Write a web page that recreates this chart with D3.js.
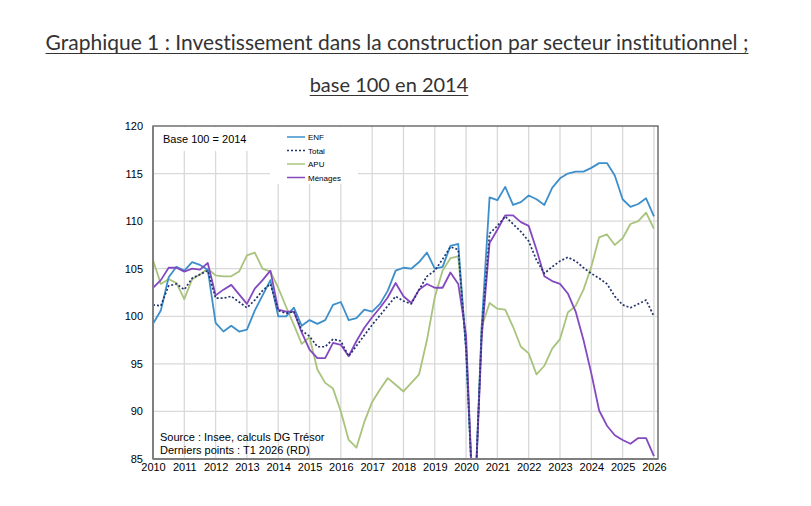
<!DOCTYPE html>
<html>
<head>
<meta charset="utf-8">
<script src="https://cdn.jsdelivr.net/npm/d3@7"></script>
<style>
  body { margin: 0; background: #fff; }
  svg { display: block; }
</style>
</head>
<body>
<div id="chart"></div>
<script>
// quarterly series, 2010 T1 -> 2026 T1, base 100 = 2014
const startYear = 2010;
const yearTicks = d3.range(2010, 2027);
const yTicks = [85, 90, 95, 100, 105, 110, 115, 120];

const enf = [
  99.2, 100.6, 104.1, 105.2,
  104.8, 105.7, 105.4, 104.9,
  99.3, 98.4, 99.0, 98.4,
  98.6, 100.6, 102.2, 103.8,
  100.0, 100.0, 100.9, 99.0,
  99.6, 99.2, 99.6, 101.2,
  101.5, 99.6, 99.8, 100.7,
  100.5, 101.3, 102.7, 104.8,
  105.1, 105.0, 105.7, 106.7,
  105.0, 105.2, 107.4, 107.6,
  96.5, 78.0, 99.0, 112.5,
  112.2, 113.6, 111.7, 112.0,
  112.7, 112.3, 111.7, 113.5,
  114.5, 115.0, 115.2, 115.2,
  115.6, 116.1, 116.1, 114.8,
  112.3, 111.5, 111.8, 112.4,
  110.5
];

const total = [
  101.2, 101.1, 103.2, 103.4,
  102.8, 104.0, 104.4, 104.8,
  101.9, 101.9, 102.1, 101.5,
  100.9, 101.7, 102.7, 103.4,
  100.6, 100.3, 100.5, 98.5,
  97.9, 96.8, 96.8, 97.6,
  97.4, 95.8, 96.9, 98.0,
  99.1, 100.1, 101.1, 102.1,
  101.6, 101.3, 102.8, 104.2,
  104.8, 106.0, 107.3, 107.0,
  96.5, 78.0, 98.5, 108.7,
  109.5, 110.5, 109.7, 108.9,
  107.9, 105.9, 104.5, 105.2,
  105.8, 106.2, 105.8, 105.1,
  104.5, 104.0, 103.4, 102.1,
  101.2, 100.9, 101.3, 101.7,
  100.0
];

const apu = [
  105.9, 103.4, 103.9, 103.5,
  101.8, 103.9, 104.4, 105.0,
  104.3, 104.2, 104.2, 104.7,
  106.4, 106.7, 105.0, 104.7,
  103.0, 101.0, 99.1, 97.1,
  97.8, 94.4, 93.0, 92.4,
  90.0, 87.0, 86.2, 88.9,
  91.0, 92.3, 93.5, 92.8,
  92.1, 93.0, 93.9, 97.5,
  102.0, 104.8, 106.1, 106.3,
  97.0, 78.0, 98.9, 101.4,
  100.8, 100.7, 98.9, 96.8,
  96.1, 93.9, 94.8, 96.6,
  97.6, 100.4, 101.1, 102.8,
  105.2, 108.3, 108.6, 107.5,
  108.2, 109.7, 110.0, 110.9,
  109.2
];

const menages = [
  103.0, 103.8, 105.1, 105.1,
  104.7, 105.0, 104.9, 105.6,
  102.2, 102.8, 103.3, 102.3,
  101.3, 102.9, 103.8, 104.8,
  100.7, 100.5, 100.5, 98.3,
  96.5, 95.6, 95.6, 97.2,
  97.0, 95.8, 97.4, 98.8,
  99.9, 100.9, 102.0, 103.5,
  102.1, 101.4, 102.8, 103.4,
  103.0, 103.0, 104.6, 103.4,
  98.0, 78.0, 97.8, 107.7,
  109.1, 110.6, 110.6, 109.9,
  109.5, 107.0, 104.2, 103.7,
  103.4, 102.4, 100.5, 97.5,
  94.0, 90.1, 88.5, 87.5,
  87.0, 86.6, 87.2, 87.2,
  85.3
];

const series = [
  {name: 'APU', values: apu, color: '#a8c47c', dash: null},
  {name: 'ENF', values: enf, color: '#3d8fcc', dash: null},
  {name: 'Ménages', values: menages, color: '#8449c0', dash: null},
  {name: 'Total', values: total, color: '#23336b', dash: '2,2'}
];
const legendOrder = ['ENF', 'Total', 'APU', 'Ménages'];

const width = 811, height = 506;
const plot = {left: 153, right: 658, top: 126, bottom: 459};

const svg = d3.select('#chart').append('svg')
  .attr('width', width).attr('height', height)
  .style('font-family', 'Liberation Sans, Arial, sans-serif');

const x = d3.scaleLinear().domain([2010, 2026.13]).range([plot.left, plot.right]);
const y = d3.scaleLinear().domain([85, 120]).range([plot.bottom, plot.top]);

// title (two underlined lines)
const titleLines = [
  {text: 'Graphique 1 : Investissement dans la construction par secteur institutionnel ;', x: 397, y: 50, size: 21},
  {text: 'base 100 en 2014', x: 389, y: 92, size: 20}
];
titleLines.forEach(t => {
  const el = svg.append('text')
    .attr('x', t.x).attr('y', t.y)
    .attr('text-anchor', 'middle')
    .style('font-family', 'Lato, "Open Sans", sans-serif')
    .style('font-size', t.size + 'px')
    .style('font-variant-ligatures', 'none')
    .attr('fill', '#333')
    .text(t.text);
  const w = el.node().getComputedTextLength();
  svg.append('line')
    .attr('x1', t.x - w / 2).attr('x2', t.x + w / 2)
    .attr('y1', t.y + 3.5).attr('y2', t.y + 3.5)
    .attr('stroke', '#333').attr('stroke-width', 1.2);
});

// gridlines
const grid = svg.append('g').attr('stroke', '#d9d9d9').attr('stroke-width', 1.3);
grid.selectAll('.hg').data(yTicks.filter(v => v > 85 && v < 120)).join('line')
  .attr('x1', plot.left).attr('x2', plot.right)
  .attr('y1', d => y(d)).attr('y2', d => y(d));
grid.selectAll('.vg').data(yearTicks.filter(v => v > 2010)).join('line')
  .attr('x1', d => x(d)).attr('x2', d => x(d))
  .attr('y1', plot.top).attr('y2', plot.bottom);

// white boxes behind the notes
svg.append('rect').attr('x', plot.left + 1).attr('y', plot.top + 1)
  .attr('width', 116).attr('height', 24).attr('fill', '#fff');
svg.append('rect').attr('x', 270).attr('y', plot.top + 1)
  .attr('width', 88).attr('height', 57).attr('fill', '#fff');

// lines
svg.append('clipPath').attr('id', 'clip').append('rect')
  .attr('x', plot.left).attr('y', plot.top)
  .attr('width', plot.right - plot.left).attr('height', plot.bottom - plot.top);

const line = d3.line()
  .x((d, i) => x(startYear + i / 4))
  .y(d => y(d));

svg.append('g').attr('clip-path', 'url(#clip)')
  .selectAll('path').data(series).join('path')
  .attr('d', d => line(d.values))
  .attr('fill', 'none')
  .attr('stroke', d => d.color)
  .attr('stroke-width', d => d.dash ? 1.7 : 1.8)
  .attr('stroke-dasharray', d => d.dash)
  .attr('stroke-linejoin', 'round');

// frame
svg.append('rect')
  .attr('x', plot.left).attr('y', plot.top)
  .attr('width', plot.right - plot.left).attr('height', plot.bottom - plot.top)
  .attr('fill', 'none').attr('stroke', '#595959').attr('stroke-width', 1.3);
svg.append('line').attr('x1', plot.left).attr('x2', plot.left)
  .attr('y1', plot.top).attr('y2', plot.bottom)
  .attr('stroke', '#7f7f7f').attr('stroke-width', 2);
svg.append('line').attr('x1', plot.left).attr('x2', plot.right)
  .attr('y1', plot.bottom).attr('y2', plot.bottom)
  .attr('stroke', '#7f7f7f').attr('stroke-width', 2);

// axes
const yAxis = svg.append('g')
  .attr('transform', `translate(${plot.left},0)`)
  .call(d3.axisLeft(y).tickValues(yTicks).tickSize(0).tickPadding(10));
const xAxis = svg.append('g')
  .attr('transform', `translate(0,${plot.bottom})`)
  .call(d3.axisBottom(x).tickValues(yearTicks).tickFormat(d3.format('d')).tickSize(0).tickPadding(4));
[yAxis, xAxis].forEach(a => {
  a.select('.domain').remove();
  a.selectAll('text').style('font-size', '11px')
    .style('font-family', 'Liberation Sans, Arial, sans-serif').attr('fill', '#000');
});

// notes
svg.append('text').attr('x', 163).attr('y', 143)
  .style('font-size', '11px').attr('fill', '#000').text('Base 100 = 2014');
svg.append('text').attr('x', 160).attr('y', 441)
  .style('font-size', '11px').attr('fill', '#000').text('Source : Insee, calculs DG Trésor');
svg.append('text').attr('x', 160).attr('y', 454)
  .style('font-size', '11px').attr('fill', '#000').text('Derniers points : T1 2026 (RD)');

// legend
const legend = svg.append('g').selectAll('g')
  .data(legendOrder.map(n => series.find(s => s.name === n)))
  .join('g')
  .attr('transform', (d, i) => `translate(287,${137 + i * 13.5})`);
legend.append('line')
  .attr('x1', 0).attr('x2', 18).attr('y1', 0).attr('y2', 0)
  .attr('stroke', d => d.color).attr('stroke-width', 1.5)
  .attr('stroke-dasharray', d => d.dash);
legend.append('text')
  .attr('x', 21).attr('y', 3)
  .style('font-size', '8px').attr('fill', '#000')
  .text(d => d.name);
</script>
</body>
</html>
